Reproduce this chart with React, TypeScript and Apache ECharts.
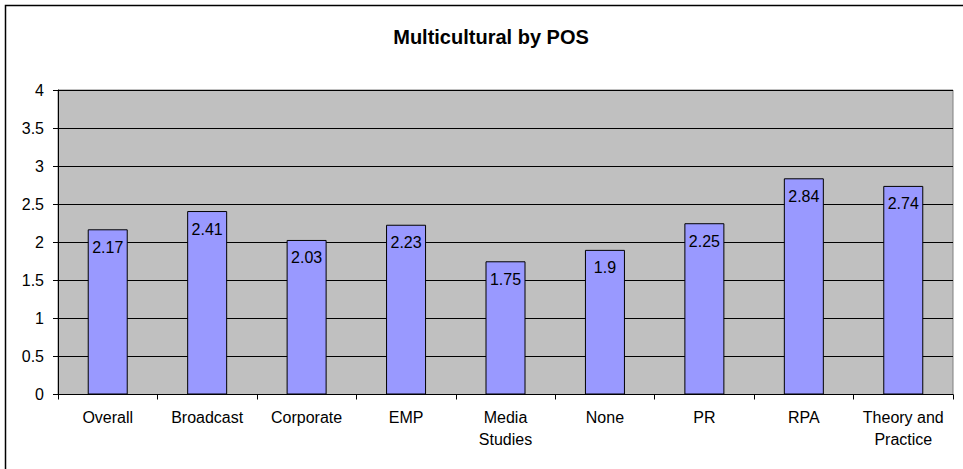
import React, { useEffect, useRef } from "react";
import * as echarts from "echarts";

const titleText = "Multicultural by POS";
const categories = [
  "Overall",
  "Broadcast",
  "Corporate",
  "EMP",
  "Media\nStudies",
  "None",
  "PR",
  "RPA",
  "Theory and\nPractice",
];
const values = [2.17, 2.41, 2.03, 2.23, 1.75, 1.9, 2.25, 2.84, 2.74];
const yMin = 0;
const yMax = 4;
const yStep = 0.5;

const FONT = "'Liberation Sans', Arial, sans-serif";

export default function App() {
  const ref = useRef<HTMLDivElement>(null);
  useEffect(() => {
    if (!ref.current) return;
    const chart = echarts.init(ref.current, null, { renderer: "svg" });
    chart.setOption({
      animation: false,
      backgroundColor: "#ffffff",
      textStyle: { fontFamily: FONT },
      title: {
        text: titleText,
        left: 486,
        top: 22,
        textAlign: "center",
        textStyle: {
          fontFamily: FONT,
          fontSize: 20,
          fontWeight: "bold",
          color: "#000",
        },
      },
      graphic: [
        {
          type: "rect",
          shape: { x: 5.5, y: 5.5, width: 1000, height: 1000 },
          style: { fill: "none", stroke: "#000", lineWidth: 1.5 },
          silent: true,
          z: 100,
        },
      ],
      grid: {
        left: 58,
        right: 10,
        top: 90,
        bottom: 74.5,
        show: true,
        backgroundColor: "#C0C0C0",
        borderColor: "#808080",
        borderWidth: 1,
        containLabel: false,
      },
      xAxis: {
        type: "category",
        data: categories,
        axisLine: { show: true, lineStyle: { color: "#000", width: 1 } },
        axisTick: {
          show: true,
          alignWithLabel: false,
          length: 5,
          lineStyle: { color: "#000" },
        },
        axisLabel: {
          interval: 0,
          margin: 12,
          fontFamily: FONT,
          fontSize: 16,
          lineHeight: 22,
          color: "#000",
        },
        splitLine: { show: false },
      },
      yAxis: {
        type: "value",
        min: yMin,
        max: yMax,
        interval: yStep,
        axisLine: { show: true, lineStyle: { color: "#000", width: 1 } },
        axisTick: { show: true, length: 5, lineStyle: { color: "#000" } },
        axisLabel: {
          margin: 14,
          fontFamily: FONT,
          fontSize: 16,
          color: "#000",
        },
        splitLine: { show: true, lineStyle: { color: "#000", width: 1 } },
      },
      series: [
        {
          type: "bar",
          data: values,
          barWidth: 40,
          itemStyle: {
            color: "#9999FF",
            borderColor: "#000",
            borderWidth: 1,
          },
          label: {
            show: true,
            position: "insideTop",
            distance: 10,
            fontFamily: FONT,
            fontSize: 16,
            color: "#000",
          },
        },
      ],
    });
    return () => chart.dispose();
  }, []);
  return (
    <div
      ref={ref}
      style={{ position: "absolute", left: 0, top: 0, width: 963, height: 469 }}
    />
  );
}
